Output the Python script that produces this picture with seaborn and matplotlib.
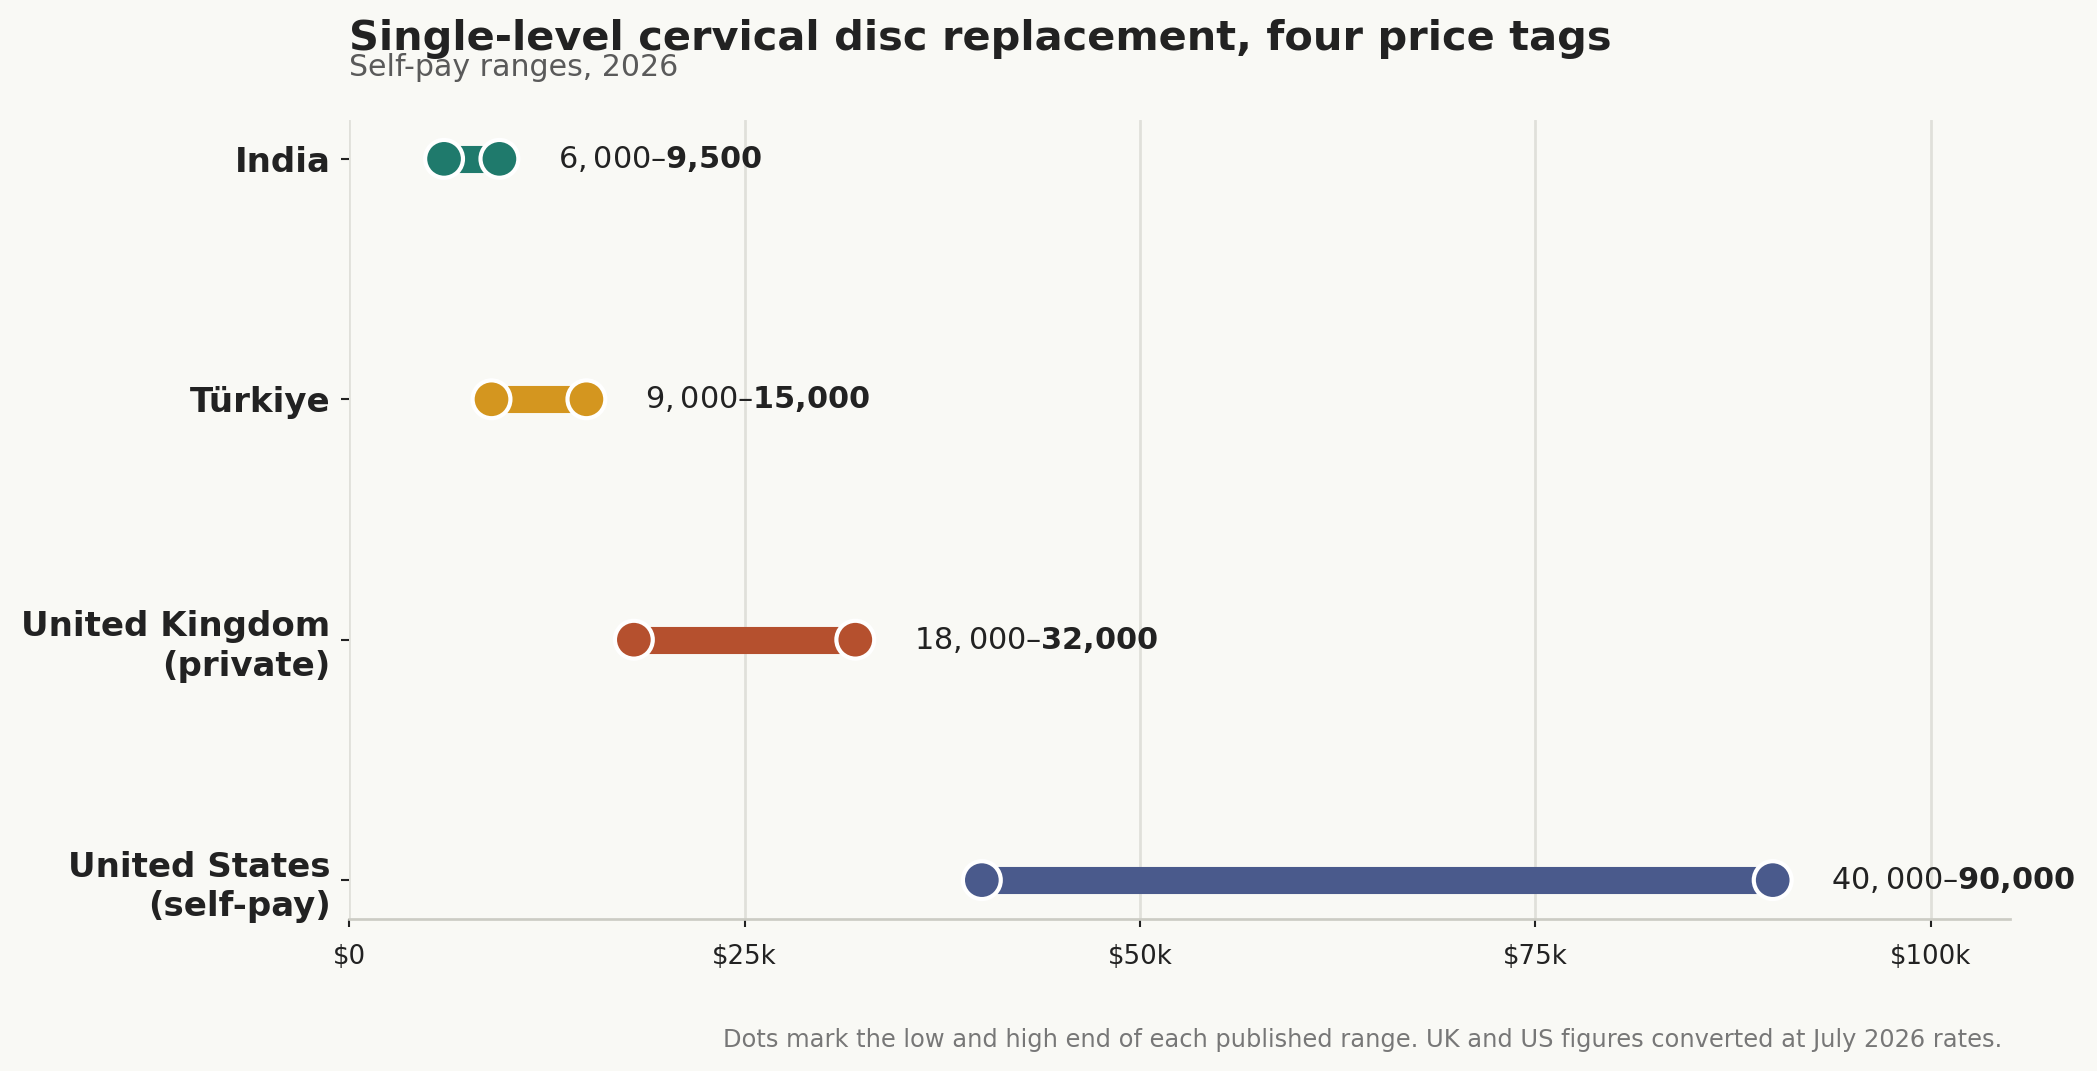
import matplotlib
matplotlib.use("Agg")
import matplotlib.pyplot as plt
import seaborn as sns
import pandas as pd

# Chart values
countries = ["India", "Türkiye", "United Kingdom\n(private)", "United States\n(self-pay)"]
low_usd = [6000, 9000, 18000, 40000]
high_usd = [9500, 15000, 32000, 90000]
colours = ["#1f7a6c", "#d4961f", "#b5502e", "#4a5a8c"]
x_ticks = [0, 25000, 50000, 75000, 100000]
x_tick_labels = ["$0", "$25k", "$50k", "$75k", "$100k"]

bg = "#f9f9f5"
ink = "#222222"

sns.set_theme(style="white")
plt.rcParams["font.family"] = ["DejaVu Sans"]

df = pd.DataFrame({"country": countries, "low": low_usd, "high": high_usd})
dots = pd.concat([
    df[["country", "low"]].rename(columns={"low": "usd"}),
    df[["country", "high"]].rename(columns={"high": "usd"}),
])

fig = plt.figure(figsize=(13.98, 7.14), dpi=150, facecolor=bg)
ax = fig.add_axes([0.1665, 0.1423, 0.792, 0.7453])
ax.set_facecolor(bg)

ypos = {c: i for i, c in enumerate(countries)}
palette = dict(zip(countries, colours))

# range bars
for c, lo, hi in zip(countries, low_usd, high_usd):
    ax.hlines(ypos[c], lo, hi, color=palette[c], linewidth=13, zorder=2)

# end dots
dots["y"] = dots["country"].map(ypos)
sns.scatterplot(data=dots, x="usd", y="y", hue="country", palette=palette,
                s=330, edgecolor="white", linewidth=2, legend=False, zorder=3, ax=ax)

# range labels
for c, lo, hi in zip(countries, low_usd, high_usd):
    ax.annotate(f"${lo:,}–${hi:,}", xy=(hi, ypos[c]), xytext=(28, 0),
                textcoords="offset points", ha="left", va="center",
                fontsize=14.5, fontweight="bold", color=ink)

ax.set_xlim(0, 105000)
ax.set_ylim(3.16, -0.16)
ax.set_yticks(range(len(countries)))
ax.set_yticklabels(countries, fontsize=16.3, fontweight="bold", color=ink,
                   linespacing=1.25)
ax.set_xticks(x_ticks)
ax.set_xticklabels(x_tick_labels, fontsize=12.5, color=ink)
ax.set_xlabel("")
ax.set_ylabel("")
ax.tick_params(axis="both", length=4, width=1, color=ink, bottom=True, left=True)
ax.tick_params(axis="x", pad=8)
ax.tick_params(axis="y", pad=5)

ax.grid(axis="x", color="#e0e0da", linewidth=1.3, zorder=0)
ax.set_axisbelow(True)
for s in ["top", "right", "left"]:
    ax.spines[s].set_visible(False)
ax.spines["bottom"].set_color("#ccccc4")
ax.spines["bottom"].set_linewidth(1.3)

fig.text(0.1665, 0.964, "Single-level cervical disc replacement, four price tags",
         fontsize=19.9, fontweight="bold", color=ink, ha="left", va="center")
fig.text(0.1665, 0.937, "Self-pay ranges, 2026", fontsize=14.4, color="#5a5a5a",
         ha="left", va="center")
fig.text(0.955, 0.029, "Dots mark the low and high end of each published range. "
         "UK and US figures converted at July 2026 rates.",
         fontsize=11.6, color="#777777", ha="right", va="center")

fig.savefig("out.png", dpi=150, facecolor=bg)
